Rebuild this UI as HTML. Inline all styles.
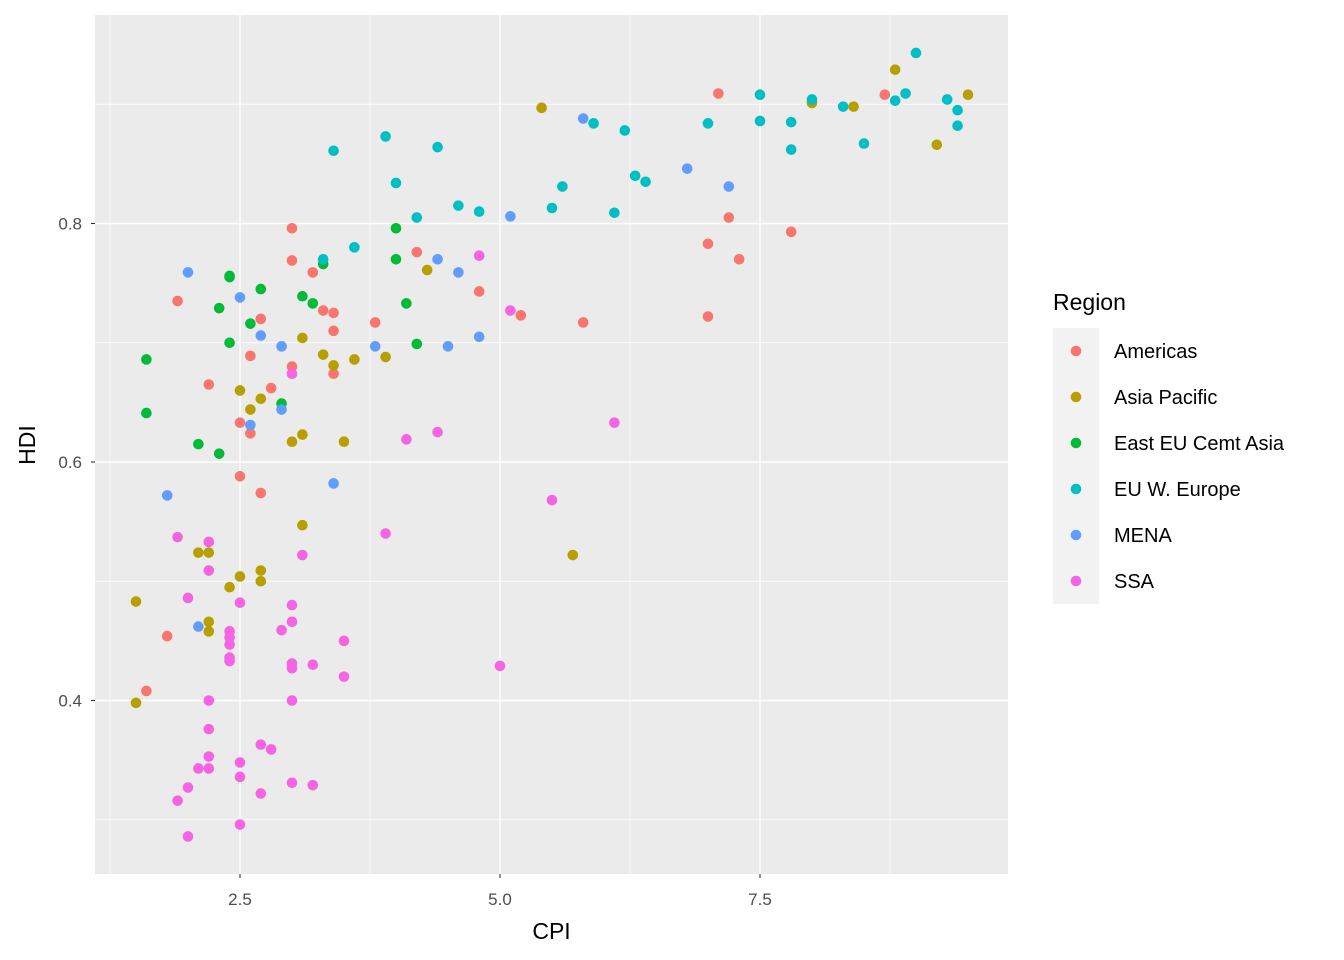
<!DOCTYPE html>
<html><head><meta charset="utf-8"><style>
body{margin:0;background:#fff;}
svg{display:block;font-family:"Liberation Sans",Arial,sans-serif;}
</style></head><body>
<svg id="chart" width="1344" height="960"></svg>
<script>
const regions=["Americas","Asia Pacific","East EU Cemt Asia","EU W. Europe","MENA","SSA"];
const colors=["#F8766D","#B79F00","#00BA38","#00BFC4","#619CFF","#F564E3"];
const xTicks=[2.5,5.0,7.5];
const xTickLabels=["2.5","5.0","7.5"];
const yTicks=[0.4,0.6,0.8];
const yTickLabels=["0.4","0.6","0.8"];
const americasCPI=[7.1,8.7,7.2,7.0,7.8,7.3,7.0,5.8,5.2,4.8,4.2,3.8,3.4,3.3,3.4,3.4,3.0,3.0,3.2,3.0,2.7,2.6,2.8,2.5,2.6,2.2,1.9,2.5,2.7,1.8,1.6];
const americasHDI=[0.909,0.908,0.805,0.783,0.793,0.770,0.722,0.717,0.723,0.743,0.776,0.717,0.725,0.727,0.710,0.674,0.796,0.769,0.759,0.680,0.720,0.689,0.662,0.633,0.624,0.665,0.735,0.588,0.574,0.454,0.408];
const asiaCPI=[8.8,9.5,8.4,8.0,9.2,5.4,5.7,4.3,3.9,3.6,3.4,3.3,3.1,3.1,3.0,3.5,3.1,2.7,2.6,2.5,2.7,2.7,2.5,2.4,2.1,2.2,2.2,2.2,1.5,1.5];
const asiaHDI=[0.929,0.908,0.898,0.901,0.866,0.897,0.522,0.761,0.688,0.686,0.681,0.690,0.704,0.623,0.617,0.617,0.547,0.653,0.644,0.660,0.509,0.500,0.504,0.495,0.524,0.524,0.466,0.458,0.483,0.398];
const eastCPI=[4.0,4.0,4.1,4.2,3.3,3.1,3.2,2.7,2.4,2.4,2.3,2.6,2.4,2.9,2.1,2.3,1.6,1.6];
const eastHDI=[0.796,0.770,0.733,0.699,0.766,0.739,0.733,0.745,0.755,0.756,0.729,0.716,0.700,0.649,0.615,0.607,0.686,0.641];
const euCPI=[9.0,8.9,9.3,9.4,9.4,8.8,8.3,8.0,7.5,7.5,7.8,8.5,7.8,7.0,5.9,6.2,6.3,6.4,5.6,5.5,6.1,4.6,4.8,4.2,4.0,4.4,3.9,3.4,3.6,3.3];
const euHDI=[0.943,0.909,0.904,0.895,0.882,0.903,0.898,0.904,0.908,0.886,0.885,0.867,0.862,0.884,0.884,0.878,0.840,0.835,0.831,0.813,0.809,0.815,0.810,0.805,0.834,0.864,0.873,0.861,0.780,0.770];
const menaCPI=[5.8,6.8,7.2,5.1,4.6,4.4,4.8,4.5,3.8,2.9,2.7,2.5,2.0,2.9,2.6,3.4,1.8,2.1];
const menaHDI=[0.888,0.846,0.831,0.806,0.759,0.770,0.705,0.697,0.697,0.697,0.706,0.738,0.759,0.644,0.631,0.582,0.572,0.462];
const ssaCPI=[4.8,5.1,6.1,5.5,4.4,4.1,3.9,5.0,3.0,3.1,3.0,3.0,3.5,3.5,3.2,3.0,3.0,3.0,2.9,3.0,3.2,2.8,2.7,2.7,2.5,2.5,2.5,2.5,2.4,2.4,2.4,2.4,2.4,2.2,2.2,2.2,2.2,2.2,2.2,2.1,1.9,2.0,2.0,1.9,2.0];
const ssaHDI=[0.773,0.727,0.633,0.568,0.625,0.619,0.540,0.429,0.674,0.522,0.480,0.466,0.450,0.420,0.430,0.431,0.427,0.400,0.459,0.331,0.329,0.359,0.363,0.322,0.348,0.336,0.296,0.482,0.458,0.453,0.447,0.436,0.433,0.533,0.509,0.400,0.376,0.353,0.343,0.343,0.537,0.486,0.327,0.316,0.286];
const seriesCPI=[americasCPI,asiaCPI,eastCPI,euCPI,menaCPI,ssaCPI];
const seriesHDI=[americasHDI,asiaHDI,eastHDI,euHDI,menaHDI,ssaHDI];

const NS="http://www.w3.org/2000/svg";
const svg=document.getElementById("chart");
const P={l:95,r:1008,t:15,b:874};
const X=v=>240+(v-2.5)*104;
const Y=v=>462-(v-0.6)*1192.5;
function mk(tag,attrs,parent){const e=document.createElementNS(NS,tag);for(const k in attrs)e.setAttribute(k,attrs[k]);(parent||svg).appendChild(e);return e;}

const panel=mk("rect",{x:P.l,y:P.t,width:P.r-P.l,height:P.b-P.t,fill:"#EBEBEB"});


[1.25,3.75,6.25,8.75].forEach(v=>{const l=mk("line",{x1:X(v),x2:X(v),y1:P.t,y2:P.b,stroke:"#fff","stroke-width":0.7});

});
[0.3,0.5,0.7,0.9].forEach(v=>{const l=mk("line",{x1:P.l,x2:P.r,y1:Y(v),y2:Y(v),stroke:"#fff","stroke-width":0.7});

});
xTicks.forEach((v,i)=>{const l=mk("line",{x1:X(v),x2:X(v),y1:P.t,y2:P.b,stroke:"#fff","stroke-width":1.4});


const tk=mk("line",{x1:X(v),x2:X(v),y1:P.b,y2:P.b+4,stroke:"#333","stroke-width":1.1});


const t=mk("text",{x:X(v),y:P.b+31,"text-anchor":"middle","font-size":17,fill:"#4D4D4D"});t.textContent=xTickLabels[i];

});
yTicks.forEach((v,i)=>{const l=mk("line",{x1:P.l,x2:P.r,y1:Y(v),y2:Y(v),stroke:"#fff","stroke-width":1.4});


const tk=mk("line",{x1:P.l-4,x2:P.l,y1:Y(v),y2:Y(v),stroke:"#333","stroke-width":1.1});


const t=mk("text",{x:P.l-13,y:Y(v)+6,"text-anchor":"end","font-size":17,fill:"#4D4D4D"});t.textContent=yTickLabels[i];

});
seriesCPI.forEach((xs,s)=>{xs.forEach((x,i)=>{const c=mk("circle",{cx:X(x),cy:Y(seriesHDI[s][i]),r:5.3,fill:colors[s]});

});});
const xt=mk("text",{x:(P.l+P.r)/2,y:939,"text-anchor":"middle","font-size":23,fill:"#000"});xt.textContent="CPI";


const yt=mk("text",{x:0,y:0,"text-anchor":"middle","font-size":23,fill:"#000",transform:"translate(35,445) rotate(-90)"});yt.textContent="HDI";


const lt=mk("text",{x:1053,y:310,"font-size":23,fill:"#000"});lt.textContent="Region";


const lb=mk("rect",{x:1053,y:328,width:46,height:276,fill:"#F2F2F2"});


regions.forEach((r,i)=>{const cy=351+i*46;
const c=mk("circle",{cx:1076,cy:cy,r:5.3,fill:colors[i]});


const t=mk("text",{x:1114,y:cy+7,"font-size":20,fill:"#000"});t.textContent=r;

});
</script>
</body></html>
